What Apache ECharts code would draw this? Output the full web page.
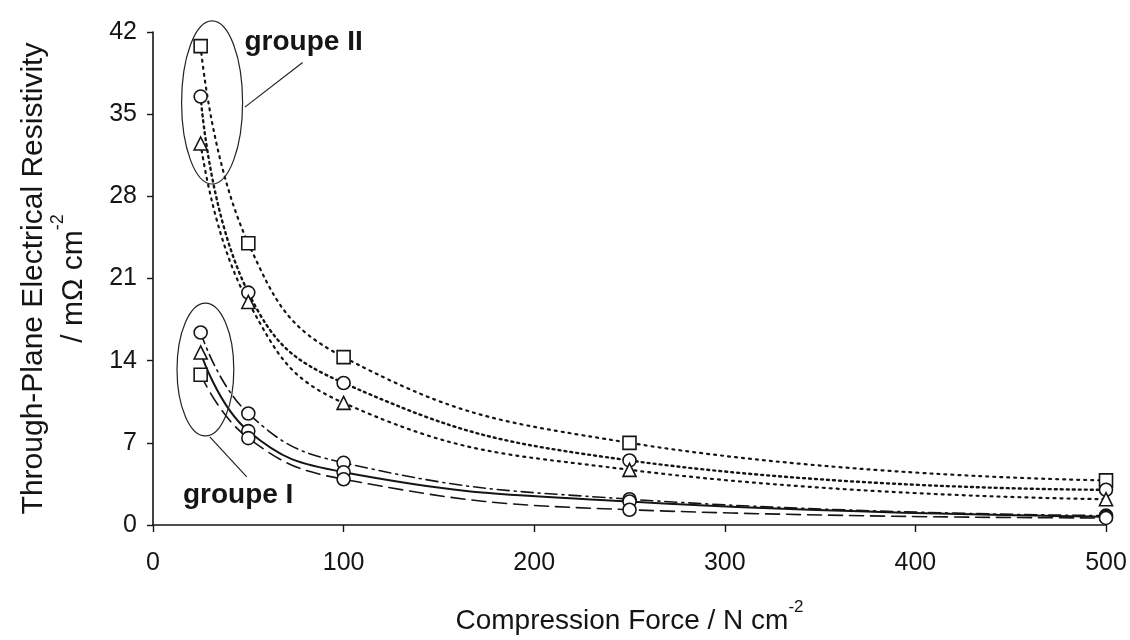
<!DOCTYPE html>
<html>
<head>
<meta charset="utf-8">
<script src="https://cdn.jsdelivr.net/npm/echarts@6/dist/echarts.min.js"></script>
<style>html,body{margin:0;padding:0;background:#fff}#c{width:1130px;height:640px}</style>
</head>
<body>
<div id="c"></div>
<script>
// ---- data ----
const forces = [25, 50, 100, 250, 500];
const xTicks = [0, 100, 200, 300, 400, 500];
const yTicks = [0, 7, 14, 21, 28, 35, 42];
// groupe II (dotted)
const g2Square = [40.8, 24.0, 14.3, 7.0, 3.8];
const g2Circle = [36.5, 19.8, 12.1, 5.5, 3.0];
const g2Triangle = [32.5, 19.0, 10.4, 4.7, 2.2];
// groupe I
const g1DashDot = [16.4, 9.5, 5.3, 2.2, 0.8];
const g1Solid = [14.7, 8.0, 4.5, 2.0, 0.7];
const g1Dashed = [12.8, 7.4, 3.9, 1.3, 0.6];
const g1DashDotSym = ['circle', 'circle', 'circle', 'circle', 'circle'];
const g1SolidSym = ['triangle', 'circle', 'circle', 'circle', 'circle'];
const g1DashedSym = ['rect', 'circle', 'circle', 'circle', 'circle'];
const labelII = 'groupe II';
const labelI = 'groupe I';

const FONT = 'Liberation Sans, Arial, sans-serif';
const INK = '#151515';

function mk(name, vals, syms, dash, width) {
  return {
    name: name,
    type: 'line',
    smooth: 0.45,
    data: vals.map((v, i) => ({ value: [forces[i], v], symbol: Array.isArray(syms) ? syms[i] : syms })),
    symbolSize: 13,
    itemStyle: { color: '#fff', borderColor: INK, borderWidth: 1.6 },
    lineStyle: { color: INK, width: width, type: dash, cap: 'round' },
    z: 3
  };
}

const chart = echarts.init(document.getElementById('c'), null, { renderer: 'canvas' });
chart.setOption({
  animation: false,
  backgroundColor: '#fff',
  textStyle: { fontFamily: FONT },
  grid: { left: 153, right: 24, top: 32, bottom: 115, containLabel: false },
  xAxis: {
    type: 'value', min: xTicks[0], max: xTicks[xTicks.length - 1], interval: 100,
    name: '{a|Compression Force / N cm}{s|-2}',
    nameLocation: 'middle', nameGap: 74,
    nameTextStyle: { rich: {
      a: { fontSize: 28, color: INK, fontFamily: FONT, lineHeight: 36, verticalAlign: 'bottom' },
      s: { fontSize: 17, color: INK, fontFamily: FONT, lineHeight: 36, verticalAlign: 'top' }
    } },
    axisLine: { lineStyle: { color: INK, width: 1.6 } },
    axisTick: { show: true, inside: false, length: 7, lineStyle: { color: INK, width: 1.4 } },
    axisLabel: { fontSize: 25, color: INK, fontFamily: FONT, margin: 26 },
    splitLine: { show: false }
  },
  yAxis: {
    type: 'value', min: yTicks[0], max: yTicks[yTicks.length - 1], interval: 7,
    name: '{a|Through-Plane Electrical Resistivity}\n{a|/ mΩ cm}{s|-2}',
    nameLocation: 'middle', nameGap: 64, nameRotate: 90,
    nameTextStyle: { align: 'center', rich: {
      a: { fontSize: 30, color: INK, fontFamily: FONT, lineHeight: 40, verticalAlign: 'bottom', align: 'center' },
      s: { fontSize: 18, color: INK, fontFamily: FONT, lineHeight: 40, verticalAlign: 'top' }
    } },
    axisLine: { show: true, lineStyle: { color: INK, width: 1.6 } },
    axisTick: { show: true, inside: false, length: 6, lineStyle: { color: INK, width: 1.4 } },
    axisLabel: { fontSize: 25, color: INK, fontFamily: FONT, margin: 16 },
    splitLine: { show: false }
  },
  series: [
    mk('II square', g2Square, 'rect', [2, 5], 2.2),
    mk('II circle', g2Circle, 'circle', [2, 4], 2.4),
    mk('II triangle', g2Triangle, 'triangle', [2, 5], 2.2),
    mk('I dashdot', g1DashDot, g1DashDotSym, [12, 5, 2, 5], 1.6),
    mk('I solid', g1Solid, g1SolidSym, 'solid', 2.0),
    mk('I dashed', g1Dashed, g1DashedSym, [14, 7], 1.6)
  ]
});

// ---- annotations, placed in data units and converted through the axes ----
const annoEllipses = [
  { cx: 31, cy: 36, rx: 16, ry: 6.95 },
  { cx: 27.5, cy: 13.25, rx: 14.9, ry: 5.66 }
];
const annoLeaders = [
  [[48.2, 35.6], [78.5, 39.4]],
  [[29.8, 7.5], [49.2, 4.1]]
];
const annoTexts = [
  { text: labelII, at: [48, 41.1] },
  { text: labelI, at: [15.7, 2.5] }
];
function px(p) { return chart.convertToPixel({ gridIndex: 0 }, p); }
const graphics = [];
annoEllipses.forEach(e => {
  const c = px([e.cx, e.cy]);
  const r = px([e.cx + e.rx, e.cy - e.ry]);
  graphics.push({ type: 'ellipse', shape: { cx: c[0], cy: c[1], rx: r[0] - c[0], ry: r[1] - c[1] },
    style: { fill: 'none', stroke: '#222', lineWidth: 1.2 }, z: 10 });
});
annoLeaders.forEach(l => {
  const a = px(l[0]), b = px(l[1]);
  graphics.push({ type: 'line', shape: { x1: a[0], y1: a[1], x2: b[0], y2: b[1] },
    style: { stroke: '#222', lineWidth: 1.2 }, z: 10 });
});
annoTexts.forEach(t => {
  const p = px(t.at);
  graphics.push({ type: 'text', x: p[0], y: p[1], z: 10,
    style: { text: t.text, font: 'bold 28px ' + FONT, fill: INK, verticalAlign: 'middle', align: 'left' } });
});
chart.setOption({ graphic: graphics });
</script>
</body>
</html>
